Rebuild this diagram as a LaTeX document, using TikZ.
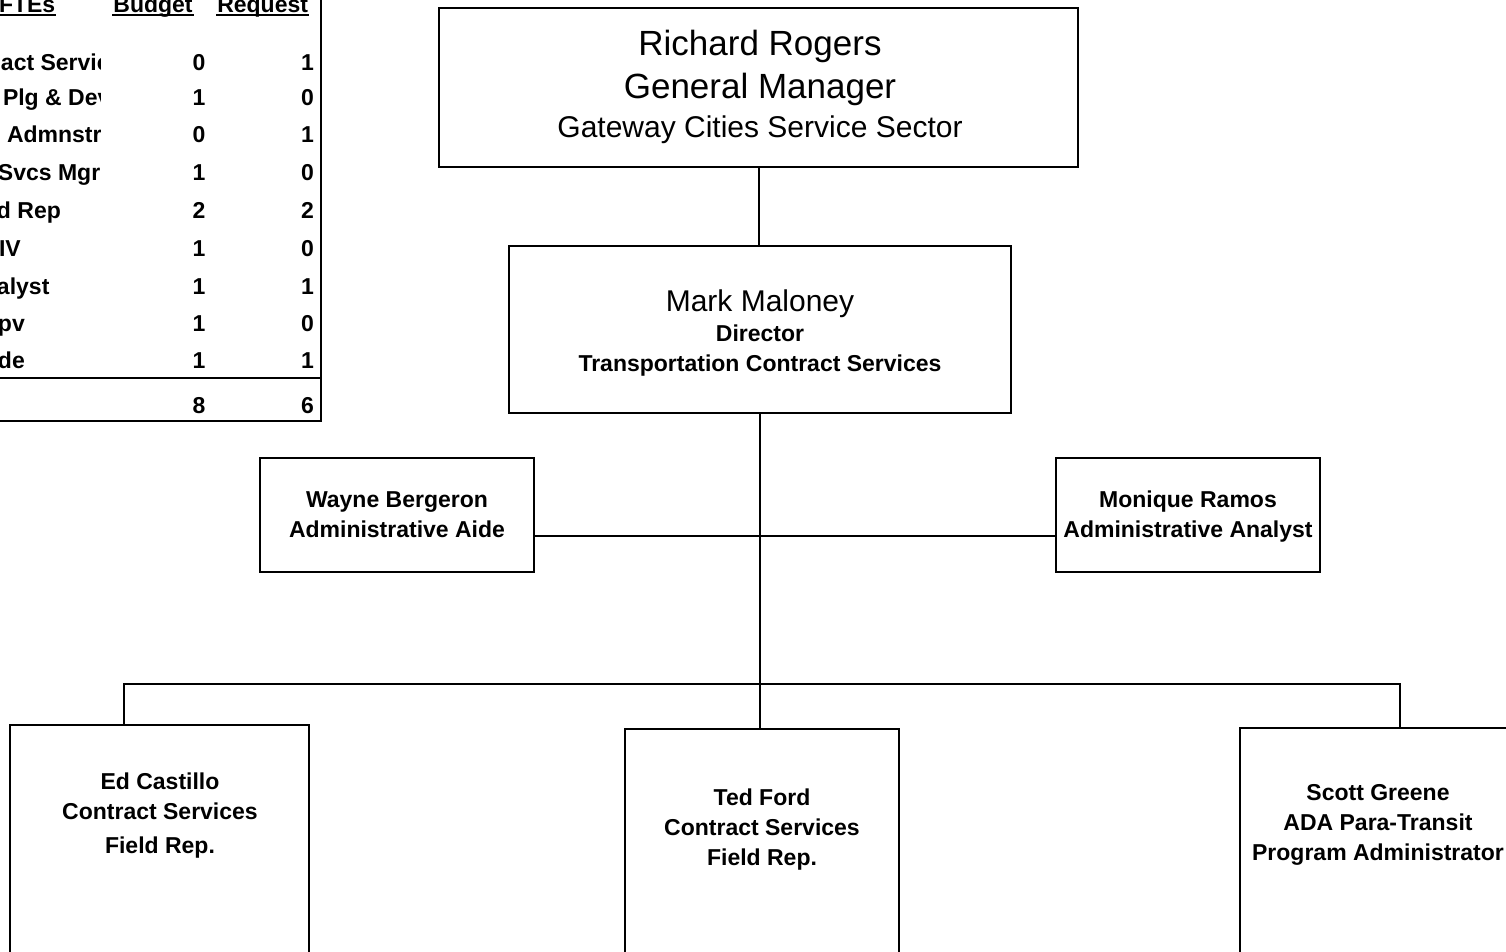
\documentclass[tikz,border=0pt]{standalone}
\usepackage{fontspec}
\setmainfont{Liberation Sans}

\tikzset{
  box/.style={draw, line width=2pt, inner sep=0pt},
  txt/.style={align=center, inner sep=0pt, anchor=base},
  small/.style={font=\fontsize{23}{30}\selectfont\bfseries},
  cell/.style={inner sep=0pt, font=\fontsize{23}{28}\selectfont\bfseries}
}

\begin{document}
\begin{tikzpicture}[x=1pt, y=-1pt, line width=2pt]
  \useasboundingbox (0,0) rectangle (1506,951);
  \clip (0,0) rectangle (1506,951);

  % FTE table, cut by the page edge
  \draw (-200,-20) rectangle (321,421);
  \draw (-200,378) -- (321,378);
  \node[cell, anchor=base west] (fte) at (-2,12) {FTEs};
  \node[cell, anchor=base]      (bud) at (153,12) {Budget};
  \node[cell, anchor=base east] (req) at (309,12) {Request};
  \foreach \h in {fte, bud, req}
    \draw ([yshift=-3pt]\h.base west) -- ([yshift=-3pt]\h.base east);
  \begin{scope}
    \clip (-10,40) rectangle (100,380);
    \foreach \lbl/\lx/\ly in {act Servic/0/70, Plg \& Dev/2/105, Admnstr/6/142,
        Svcs Mgr/-3/180, d Rep/-4/218, IV/-2/256, alyst/-4/294, pv/-3/331, de/-3/368}
      \node[cell, anchor=base west] at (\lx,\ly) {\lbl};
  \end{scope}
  \foreach \b/\r/\ly in {0/1/70, 1/0/105, 0/1/142, 1/0/180, 2/2/218,
      1/0/256, 1/1/294, 1/0/331, 1/1/368, 8/6/413} {
    \node[cell, anchor=base]      at (199,\ly) {\b};
    \node[cell, anchor=base east] at (315,\ly) {\r};
  }

  % boxes
  \node[box, minimum width=639pt, minimum height=159pt] (gm)  at (758.5,87.5) {};
  \node[box, minimum width=502pt, minimum height=167pt] (dir) at (760,329.5) {};
  \node[box, minimum width=274pt, minimum height=114pt] (wayne)   at (397,515) {};
  \node[box, minimum width=264pt, minimum height=114pt] (monique) at (1188,515) {};
  \node[box, minimum width=299pt, minimum height=300pt, anchor=north] (ed)    at (159.5,724) {};
  \node[box, minimum width=274pt, minimum height=300pt, anchor=north] (ted)   at (762,728) {};
  \node[box, minimum width=276pt, minimum height=300pt, anchor=north] (scott) at (1378,727) {};

  % texts (base = last line)
  \node[txt, font=\fontsize{35}{43}\selectfont] at (760,137)
    {Richard Rogers\\General Manager\\[-4pt]{\fontsize{30}{39}\selectfont Gateway Cities Service Sector}};
  \node[txt, small] at (760,371)
    {{\fontsize{30}{30}\selectfont\mdseries Mark Maloney}\\Director\\Transportation Contract Services};
  \node[txt, small] at (397,537) {Wayne Bergeron\\Administrative Aide};
  \node[txt, small] at (1188,537) {Monique Ramos\\Administrative Analyst};
  \node[txt, small] at (160,853) {Ed Castillo\\Contract Services\\[4pt]Field Rep.};
  \node[txt, small] at (762,865) {Ted Ford\\Contract Services\\Field Rep.};
  \node[txt, small] at (1378,860) {Scott Greene\\ADA Para-Transit\\Program Administrator};

  % connectors
  \coordinate (aides) at (760,536);
  \coordinate (bus)   at (760,684);
  \draw (gm.south) -- (gm.south |- dir.north);
  \draw (dir.south) -- (dir.south |- ted.north);
  \draw (wayne.east |- aides) -- (monique.west |- aides);
  \draw ([xshift=-35.5pt]ed.north) |- (bus) -| ([xshift=22pt]scott.north);
\end{tikzpicture}
\end{document}
